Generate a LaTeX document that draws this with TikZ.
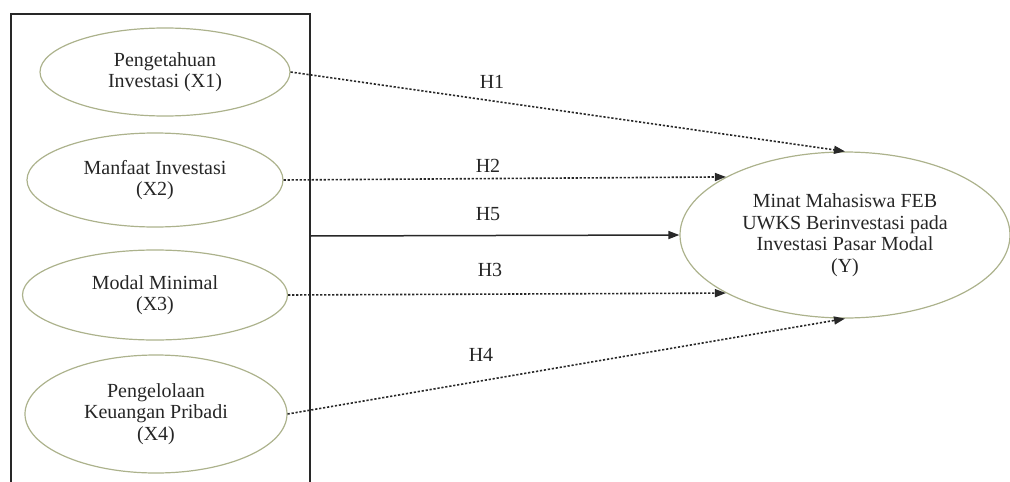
\documentclass[tikz,border=0pt]{standalone}
\usepackage{fontspec}
\setmainfont{Liberation Serif}
\usetikzlibrary{shapes.geometric,arrows.meta}
\definecolor{ellcol}{RGB}{172,178,140}
\definecolor{linecol}{RGB}{40,40,40}
\tikzset{
  var/.style={ellipse, draw=ellcol, line width=1.2pt, inner sep=0pt, align=center,
    font=\fontsize{20}{21.5}\selectfont, text=black!85},
  hyp/.style={draw=linecol, line width=1.6pt, dash pattern=on 2.2pt off 1.8pt,
    -{Triangle[length=11pt,width=8pt]}},
  hypsolid/.style={draw=linecol, line width=1.5pt, -{Triangle[length=11pt,width=8pt]}},
  hlab/.style={font=\fontsize{20}{21.5}\selectfont, text=black!85},
  frame/.style={draw=linecol, line width=1.5pt}
}
\begin{document}
\begin{tikzpicture}[x=1pt,y=-1pt]
\useasboundingbox (0,0) rectangle (1010,482);
% frame (bottom open)
\coordinate (fbl) at (11,482);
\coordinate (ftl) at (11,14);
\coordinate (ftr) at (310,14);
\coordinate (fbr) at (310,482);
\draw[frame] (fbl) -- (ftl) -- (ftr) -- (fbr);
% variables
\node[var, minimum width=250pt, minimum height=88pt] (x1) at (165,72) {Pengetahuan\\Investasi (X1)};
\node[var, minimum width=256pt, minimum height=94pt] (x2) at (155,180) {Manfaat Investasi\\(X2)};
\node[var, minimum width=265pt, minimum height=90pt] (x3) at (155,295) {Modal Minimal\\(X3)};
\node[var, minimum width=262pt, minimum height=118pt] (x4) at (156,414) {Pengelolaan\\Keuangan Pribadi\\(X4)};
\node[var, minimum width=330pt, minimum height=166pt] (y) at (845,235) {Minat Mahasiswa FEB\\UWKS Berinvestasi pada\\Investasi Pasar Modal\\(Y)};
% frame anchor for H5
\coordinate (fr5) at (310,236);
% connectors
\draw[hyp] (x1.east) -- (y.north);
\draw[hyp] (x2.east) -- (y.154);
\draw[hypsolid] (fr5) -- (y.west);
\draw[hyp] (x3.east) -- (y.206);
\draw[hyp] (x4.east) -- (y.south);
% labels
\node[hlab] (h1) at (492,82) {H1};
\node[hlab] (h2) at (488,166) {H2};
\node[hlab] (h5) at (488,214) {H5};
\node[hlab] (h3) at (490,270) {H3};
\node[hlab] (h4) at (481,355) {H4};
\end{tikzpicture}
\end{document}
